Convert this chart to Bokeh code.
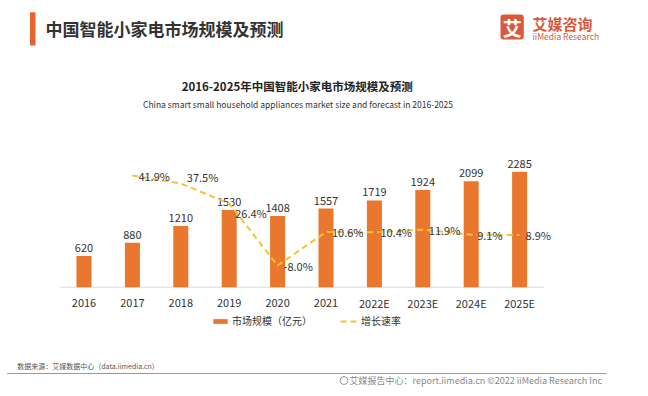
from bokeh.plotting import figure
from bokeh.models import Range1d, ColumnDataSource, Legend, LegendItem
from bokeh.embed import file_html
from bokeh.resources import INLINE
from bokeh.core.properties import value

# ---------------- data ----------------
categories = ["2016", "2017", "2018", "2019", "2020", "2021", "2022E", "2023E", "2024E", "2025E"]
market_size = [620, 880, 1210, 1530, 1408, 1557, 1719, 1924, 2099, 2285]
growth_categories = ["2017", "2018", "2019", "2020", "2021", "2022E", "2023E", "2024E", "2025E"]
growth_rate = [41.9, 37.5, 26.4, -8.0, 10.6, 10.4, 11.9, 9.1, 8.9]

# label nudges (pixels) for the growth-rate labels
growth_label_dy = [0, -6, 10, 0, 0, 0, 0, 0, 0]

# ---------------- layout ----------------
W, H = 648, 396
FONT = "Noto Sans CJK SC"
BAR = "#E9772E"
LINE = "#F5C232"
TXT = "#333333"

p = figure(width=W, height=H, output_backend="svg", toolbar_location=None,
           x_range=Range1d(0, W), y_range=Range1d(H, 0),
           x_axis_location=None, y_axis_location=None,
           min_border=0, outline_line_color=None,
           background_fill_color="white", border_fill_color="white")
p.grid.visible = False

n = len(categories)
step, x0 = 48.4, 83.5            # px between categories, px of first category centre
base_y, vscale = 286.7, 0.0505   # px of zero line from top, px per unit
pct_zero, pscale = 250.6, 1.804  # px of 0% from top, px per percentage point
p.extra_x_ranges = {"cat": Range1d(-x0 / step, (W - x0) / step)}
p.extra_y_ranges = {
    "val": Range1d(-(H - base_y) / vscale, base_y / vscale),
    "pct": Range1d(-(H - pct_zero) / pscale, pct_zero / pscale),
}

idx = list(range(n))
src = ColumnDataSource(dict(i=idx, cat=categories, v=market_size,
                            vl=[str(v) for v in market_size], zero=[0] * n))
gidx = [categories.index(c) for c in growth_categories]
gsrc = ColumnDataSource(dict(i=gidx, g=growth_rate,
                             gl=[f"{g:.1f}%" for g in growth_rate], dy=growth_label_dy))


def txt(x, y, s, size, color, align="left", baseline="middle", style="normal"):
    p.text(x=[x], y=[y], text=[s], text_font=value(FONT), text_font_size=f"{size}px",
           text_color=color, text_align=align, text_baseline=baseline, text_font_style=style)


# baseline
p.line(x=[-0.5, n - 0.5], y=[0, 0], x_range_name="cat", y_range_name="val",
       line_color="#D9D9D9", line_width=1)

bars = p.vbar(x="i", top="v", bottom=0, width=0.31, source=src, x_range_name="cat",
              y_range_name="val", fill_color=BAR, line_color=None)

p.text(x="i", y="v", text="vl", source=src, x_range_name="cat", y_range_name="val",
       text_align="center", text_baseline="bottom", y_offset=-4,
       text_font=value(FONT), text_font_size="11px", text_color=TXT)

p.text(x="i", y="zero", text="cat", source=src, x_range_name="cat", y_range_name="val",
       text_align="center", text_baseline="middle", y_offset=16,
       text_font=value(FONT), text_font_size="11px", text_color=TXT)

line = p.line(x="i", y="g", source=gsrc, x_range_name="cat", y_range_name="pct",
              line_color=LINE, line_width=2, line_dash="6 4")

p.text(x="i", y="g", text="gl", source=gsrc, x_range_name="cat", y_range_name="pct",
       text_align="left", text_baseline="middle", x_offset=6, y_offset="dy",
       text_font=value(FONT), text_font_size="11px", text_color=TXT)

legend = Legend(items=[LegendItem(label="市场规模（亿元）", renderers=[bars]),
                       LegendItem(label="增长速率", renderers=[line])],
                orientation="horizontal", location=(211, 68), padding=0, margin=0,
                spacing=28, label_standoff=3, glyph_width=18, glyph_height=6,
                label_height=6, border_line_color=None, background_fill_alpha=0,
                label_text_font=FONT, label_text_font_size="10px", label_text_color=TXT)
p.add_layout(legend)

# header
p.quad(left=[29.5], right=[35], top=[11.7], bottom=[45], fill_color="#E9632F", line_color=None)
txt(45, 28.3, "中国智能小家电市场规模及预测", 17, TXT, style="bold")

# logo
LOGO = "#D95A3A"
p.quad(left=[500], right=[523.3], top=[14], bottom=[39], fill_color=LOGO, line_color=None,
       border_radius=3)
txt(511.7, 26.8, "艾", 19, "white", align="center", style="bold")
txt(532, 23.3, "艾媒咨询", 15, LOGO, style="bold")
txt(532, 35.7, "iiMedia Research", 8.5, LOGO)

# chart titles
txt(296.7, 85, "2016-2025年中国智能小家电市场规模及预测", 11.5, "#222222", align="center", style="bold")
txt(297.5, 103.3, "China smart small household appliances market size and forecast in 2016-2025",
    8.5, TXT, align="center")

# footer
txt(16.7, 365, "数据来源：艾媒数据中心（data.iimedia.cn）", 7, "#555555")
p.line(x=[6.7, 606], y=[373, 373], line_color="#999999", line_width=1.2)
p.scatter(x=[343.5], y=[380], marker="circle", size=8, fill_color=None, line_color="#999999")
txt(349, 380, "艾媒报告中心：report.iimedia.cn   ©2022  iiMedia Research  Inc", 9, "#888888")

open("out.html", "w").write(file_html(p, INLINE))
